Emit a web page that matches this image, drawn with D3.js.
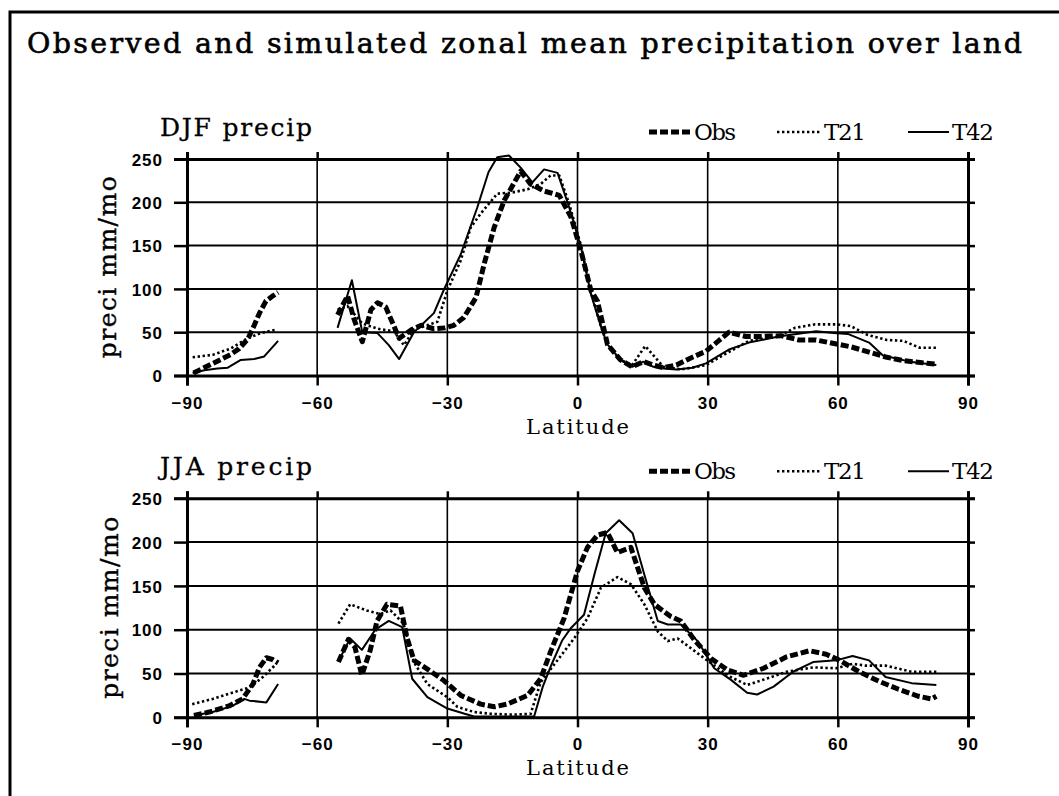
<!DOCTYPE html>
<html>
<head>
<meta charset="utf-8">
<script src="https://cdn.jsdelivr.net/npm/d3@7"></script>
<style>
  html, body { margin: 0; padding: 0; background: #fff; }
  svg { display: block; }
  .serif { font-family: "DejaVu Serif", "Liberation Serif", serif; fill: #000; }
  .tick text { font-family: "Liberation Sans", Arial, sans-serif; font-weight: bold; font-size: 17px; letter-spacing: 1px; fill: #000; }
</style>
</head>
<body>
<svg id="chart" width="1059" height="796"></svg>
<script>
// ---- axis ticks ----
const latTicks = [-90, -60, -30, 0, 30, 60, 90];
const precipTicks = [0, 50, 100, 150, 200, 250];

// ---- DJF zonal means (mm/mo); null splits the line where there is no land ----
const djfObsLat = [-88.5,-84,-80,-78,-76,-74.5,-73.3,-71.8,-70.2,-69, null,
  -55.3,-53,-51.5,-49.6,-47.6,-46.1,-44.2,-41.1,-38.2,-36,-33.1,-30.5,-28.5,-26.2,-23.4,-21.5,-19.2,-16.9,-13.1,-10.8,-7.7,-4.2,-1.5,0.8,3.1,4.6,6.9,9.9,12.6,15.2,17.5,19.8,22.8,26,29.6,32.5,34.9,38.8,42,46.9,51,55,59.1,63.1,67.2,71.3,75.4,79,82.7];
const djfObs = [3,14,24,31,42,58,72,86,92,96, null,
  70,92,65,39,76,84,79,43,53,58,54,55,58,67,90,129,171,202,236,221,213,208,183,144,98,86,36,18,10,16,12,9,12,20,28,40,50,45,45,46,41,41,37,33,27,21,17,15,13];

const djfT21Lat = [-88.7,-84,-80,-76,-73,-69.5, null,
  -55.3,-53,-49.6,-46.1,-42.3,-40,-37.7,-34.6,-32.3,-30,-26.9,-24.6,-22.3,-18.5,-15.4,-11.5,-8.5,-6.2,-4.2,-1.9,0.8,3.1,5.5,6.9,9.9,12.6,15.6,19.8,23.9,29.6,33.4,39.5,46.3,50.1,54.6,59.9,63,66.8,71.3,75.1,78.9,82.7];
const djfT21 = [21,24,31,43,49,53, null,
  76,80,60,54,51,35,53,58,62,98,133,171,187,210,211,215,221,231,231,198,150,96,55,36,18,12,34,10,7,12,23,40,45,55,59,59,57,47,41,40,32,32];

const djfT42Lat = [-88.7,-86,-83,-80.6,-77.6,-74.5,-72.2,-69, null,
  -55.3,-52,-49.6,-46.1,-43.5,-41.1,-37.7,-33.1,-30.8,-26.9,-23.1,-20.5,-18.5,-15.8,-13.1,-10.4,-7.7,-4.6,-1.9,0.8,3.1,5.5,6.9,9.9,12.6,15.2,17.5,19.8,22.8,26.5,29.6,34.9,39.5,46.3,50.5,55,59.1,62.3,67.2,70.4,76.6,82.7];
const djfT42 = [3,6,8,9,18,19,22,40, null,
  55,110,50,49,35,19,50,72,99,140,194,235,252,254,240,223,238,234,194,148,94,55,36,18,10,16,10,8,7,9,14,30,38,45,48,51,49,48,38,23,16,12];

// ---- JJA zonal means (mm/mo) ----
const jjaObsLat = [-88.4,-84.9,-80.3,-77.2,-74.8,-73.3,-71.7,-70.3,-69, null,
  -55.1,-52.8,-51.3,-49.7,-47.8,-46.2,-43.9,-40.8,-39.3,-37.7,-34.6,-30.8,-26.9,-22.3,-19.2,-16.2,-11.5,-8.5,-6.2,-3.1,0,2.3,4.6,6.9,9.2,12.3,15.4,17.7,21.5,23.8,27,30.8,34.6,38.3,42.9,48.2,53.5,57.3,60.4,64.9,69.5,74,78.6,81.6,82.7];
const jjaObs = [2,6,13,21,38,57,68,66,62, null,
  63,89,80,48,76,110,129,127,91,65,55,42,25,15,12,15,25,44,75,113,167,194,208,211,188,194,148,129,115,110,88,67,54,48,56,69,76,72,65,52,41,32,24,21,24];

const jjaT21Lat = [-88.8,-84.1,-80.3,-75.6,-72.5,-69.4, null,
  -55.1,-52.4,-48.6,-45.5,-43.1,-40.1,-37.7,-34.6,-30,-27.7,-23.8,-20,-15,-10.8,-8.5,-5.4,-0.8,2.3,5.4,9.2,12.3,15.4,18.5,20.8,23.1,27.7,31.5,35.3,39.1,42.9,48.2,54.3,59.6,63.4,66.4,71,77,82.7];
const jjaT21 = [15,21,27,34,46,61, null,
  107,129,122,118,122,107,63,38,23,12,6,4,3,4,40,60,90,113,148,160,152,129,98,87,90,73,59,46,37,43,52,57,56,61,59,59,52,52];

const jjaT42Lat = [-88.4,-84.1,-79.5,-76.8,-75.6,-71.7,-69, null,
  -55,-52.4,-49.7,-46.6,-43.5,-40.4,-38.1,-34.6,-30,-26,-23.8,-10,-8,-6,-3.5,-1.5,1.5,4,6.5,9.6,12.7,15.4,18.5,20.8,23.8,27.7,31.5,35.3,39.1,41.4,45.2,49.7,54.3,59.6,63.4,67.2,71,77,82.7];
const jjaT42 = [2,6,13,21,19,17,38, null,
  65,90,77,100,110,103,44,23,10,4,1,1,35,60,88,102,117,165,210,225,210,163,110,106,106,87,56,43,28,26,35,52,63,65,70,65,46,39,37];

const legendNames = ["Obs", "T21", "T42"];

// ---- layout ----
const svg = d3.select("#chart");
const xLeft = 187, xRight = 968;
const x = d3.scaleLinear().domain([-90, 90]).range([xLeft, xRight]);

const styles = {
  Obs: { width: 5, dash: "8,3" },
  T21: { width: 2.6, dash: "2.4,2.6" },
  T42: { width: 2, dash: null }
};

// outer frame
svg.append("path")
  .attr("d", "M10,800 L10,12 L1062,12")
  .attr("fill", "none").attr("stroke", "#000").attr("stroke-width", 3);

// typewriter-like text: serif glyphs spread to a fixed run length
function label(sel, txt, opts) {
  const t = sel.append("text").attr("class", "serif")
    .attr("font-size", opts.size)
    .attr("textLength", opts.len).attr("lengthAdjust", "spacing")
    .text(txt);
  if (opts.heavy) t.attr("stroke", "#000").attr("stroke-width", opts.heavy);
  if (opts.anchor) t.attr("text-anchor", opts.anchor);
  if (opts.transform) t.attr("transform", opts.transform);
  else t.attr("x", opts.x).attr("y", opts.y);
  return t;
}

label(svg, "Observed and simulated zonal mean precipitation over land",
  { x: 27, y: 53, size: 28.5, len: 995, heavy: 0.6 });

function panel(cfg) {
  const y = d3.scaleLinear().domain([0, 250]).range([cfg.bottom, cfg.top]);
  const g = svg.append("g");

  // grid
  const grid = g.append("g");
  grid.selectAll("line.h").data(precipTicks.slice(1, -1)).join("line")
    .attr("x1", xLeft).attr("x2", xRight)
    .attr("y1", d => y(d)).attr("y2", d => y(d))
    .attr("stroke", "#000").attr("stroke-width", 2);
  grid.selectAll("line.v").data(latTicks.slice(1, -1)).join("line")
    .attr("y1", cfg.top).attr("y2", cfg.bottom)
    .attr("x1", d => x(d)).attr("x2", d => x(d))
    .attr("stroke", "#000").attr("stroke-width", 1.6);

  // axes with outward ticks
  const left = g.append("g").attr("transform", `translate(${xLeft},0)`)
    .call(d3.axisLeft(y).tickValues(precipTicks).tickSize(13).tickPadding(11).tickFormat(d3.format("d")));
  const bottom = g.append("g").attr("transform", `translate(0,${cfg.bottom})`)
    .call(d3.axisBottom(x).tickValues(latTicks).tickSize(10).tickPadding(11)
      .tickFormat(d => d < 0 ? "\u2212" + Math.abs(d) : String(d)));
  const top = g.append("g").attr("transform", `translate(0,${cfg.top})`)
    .call(d3.axisTop(x).tickValues(latTicks).tickSize(7).tickFormat(""));
  const right = g.append("g").attr("transform", `translate(${xRight},0)`)
    .call(d3.axisRight(y).tickValues(precipTicks).tickSize(7).tickFormat(""));
  [left, bottom, top, right].forEach(a => {
    a.select(".domain").attr("stroke", "#000").attr("stroke-width", 3);
    a.selectAll(".tick line").attr("stroke", "#000").attr("stroke-width", 2.5);
  });
  left.selectAll(".tick text").attr("dy", "0.36em");

  // series
  const series = [
    { name: "T21", lat: cfg.t21Lat, val: cfg.t21 },
    { name: "T42", lat: cfg.t42Lat, val: cfg.t42 },
    { name: "Obs", lat: cfg.obsLat, val: cfg.obs }
  ];
  const line = d3.line()
    .defined(d => d[0] !== null && d[1] !== null)
    .x(d => x(d[0])).y(d => y(d[1]));
  series.forEach(s => {
    const st = styles[s.name];
    g.append("path")
      .datum(d3.zip(s.lat, s.val))
      .attr("d", line)
      .attr("fill", "none").attr("stroke", "#000")
      .attr("stroke-width", st.width)
      .attr("stroke-linejoin", "round")
      .attr("stroke-dasharray", st.dash);
  });

  // titles
  label(g, cfg.title, { x: 160, y: cfg.top - 23, size: 25, len: 152, heavy: 0.3 });
  label(g, "preci mm/mo", { size: 25, len: 182, anchor: "middle", heavy: 0.4,
    transform: `translate(${cfg.ylabX},${(cfg.top + cfg.bottom) / 2}) rotate(-90)` });
  label(g, "Latitude", { x: x(0), y: cfg.bottom + 58, size: 21, len: 103, anchor: "middle" });

  // legend
  const ly = cfg.top - 27;
  const items = [
    { name: legendNames[0], x0: 649, x1: 690, tx: 694 },
    { name: legendNames[1], x0: 777, x1: 820, tx: 824 },
    { name: legendNames[2], x0: 908, x1: 949, tx: 952 }
  ];
  items.forEach(it => {
    const st = styles[it.name];
    g.append("line")
      .attr("x1", it.x0).attr("x2", it.x1).attr("y1", ly).attr("y2", ly)
      .attr("stroke", "#000").attr("stroke-width", st.width)
      .attr("stroke-dasharray", st.dash);
    label(g, it.name, { x: it.tx, y: ly + 8, size: 23, len: 42 });
  });
}

panel({ title: "DJF precip", top: 159, bottom: 375.5, ylabX: 116,
  obsLat: djfObsLat, obs: djfObs, t21Lat: djfT21Lat, t21: djfT21, t42Lat: djfT42Lat, t42: djfT42 });
panel({ title: "JJA precip", top: 498.3, bottom: 717.3, ylabX: 118,
  obsLat: jjaObsLat, obs: jjaObs, t21Lat: jjaT21Lat, t21: jjaT21, t42Lat: jjaT42Lat, t42: jjaT42 });
</script>
</body>
</html>
